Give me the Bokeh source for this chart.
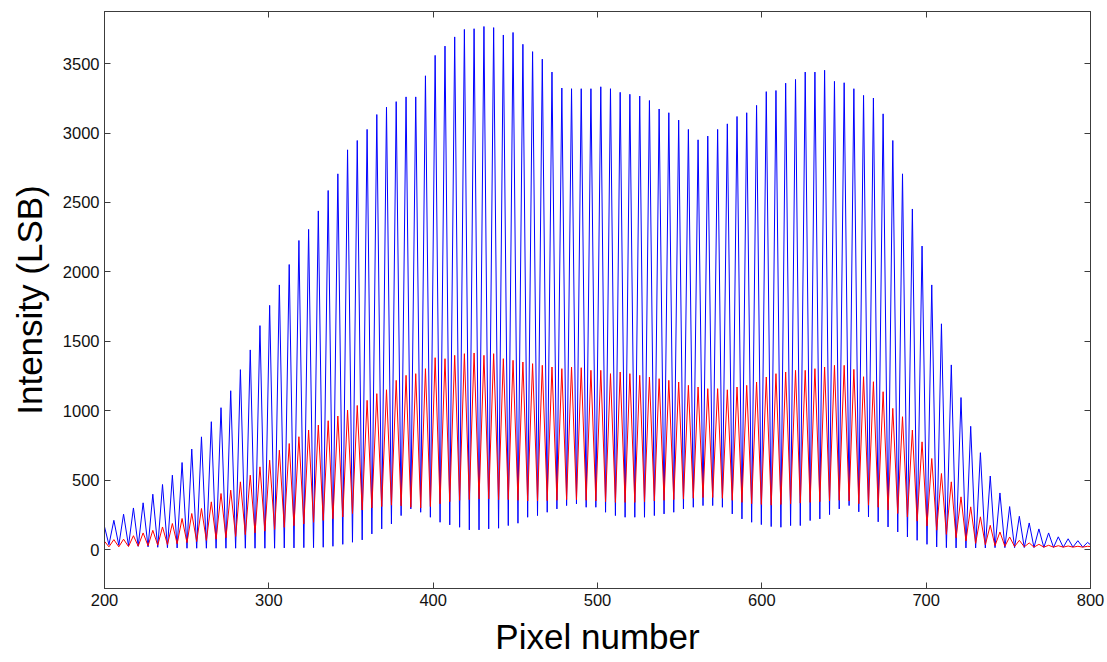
from bokeh.plotting import figure
from bokeh.models import LinearAxis, FixedTicker, Range1d
from bokeh.embed import file_html
from bokeh.resources import INLINE

# ---------------- data ----------------
x_ticks = [200, 300, 400, 500, 600, 700, 800]
y_ticks = [0, 500, 1000, 1500, 2000, 2500, 3000, 3500]

# pixel positions of the fringe maxima
peak_x = [205.7, 211.6, 217.6, 223.5, 229.4, 235.3, 241.3, 247.2, 253.1, 259.0,
          265.0, 270.9, 276.8, 282.7, 288.7, 294.6, 300.5, 306.4, 312.4, 318.3,
          324.2, 330.1, 336.1, 342.0, 347.9, 353.8, 359.8, 365.7, 371.6, 377.5,
          383.5, 389.4, 395.3, 401.2, 407.2, 413.1, 419.0, 424.9, 430.9, 436.8,
          442.7, 448.6, 454.6, 460.5, 466.4, 472.3, 478.3, 484.2, 490.1, 496.0,
          502.0, 507.9, 513.8, 519.7, 525.7, 531.6, 537.5, 543.4, 549.4, 555.3,
          561.2, 567.1, 573.1, 579.0, 584.9, 590.8, 596.8, 602.7, 608.6, 614.5,
          620.5, 626.4, 632.3, 638.2, 644.2, 650.1, 656.0, 661.9, 667.9, 673.8,
          679.7, 685.6, 691.6, 697.5, 703.4, 709.3, 715.3, 721.2, 727.1, 733.0,
          739.0, 744.9, 750.8, 756.7, 762.7, 768.6, 774.5, 780.4, 786.4, 792.3,
          798.2]
# pixel positions of the fringe minima (each one just before the matching maximum)
trough_x = [202.7, 208.7, 214.6, 220.5, 226.5, 232.4, 238.3, 244.2, 250.2, 256.1,
            262.0, 267.9, 273.9, 279.8, 285.7, 291.6, 297.6, 303.5, 309.4, 315.3,
            321.3, 327.2, 333.1, 339.0, 345.0, 350.9, 356.8, 362.7, 368.7, 374.6,
            380.5, 386.4, 392.4, 398.3, 404.2, 410.1, 416.1, 422.0, 427.9, 433.8,
            439.8, 445.7, 451.6, 457.5, 463.5, 469.4, 475.3, 481.2, 487.2, 493.1,
            499.0, 504.9, 510.9, 516.8, 522.7, 528.6, 534.6, 540.5, 546.4, 552.3,
            558.3, 564.2, 570.1, 576.0, 582.0, 587.9, 593.8, 599.7, 605.7, 611.6,
            617.5, 623.4, 629.4, 635.3, 641.2, 647.1, 653.1, 659.0, 664.9, 670.8,
            676.8, 682.7, 688.6, 694.5, 700.5, 706.4, 712.3, 718.2, 724.2, 730.1,
            736.0, 741.9, 747.9, 753.8, 759.7, 765.6, 771.6, 777.5, 783.4, 789.3,
            795.3]
edge_x = [200, 800]

blue_peak = [211, 255, 300, 337, 399, 469, 536, 627, 724, 812,
             921, 1022, 1144, 1296, 1438, 1613, 1759, 1906, 2053, 2226,
             2306, 2439, 2586, 2706, 2879, 2946, 3026, 3133, 3186, 3226,
             3260, 3260, 3412, 3559, 3626, 3692, 3746, 3751, 3767, 3759,
             3706, 3724, 3639, 3586, 3532, 3439, 3324, 3319, 3319, 3319,
             3333, 3319, 3293, 3279, 3266, 3234, 3173, 3146, 3093, 3026,
             2951, 2978, 3026, 3066, 3119, 3146, 3199, 3298, 3306, 3359,
             3386, 3439, 3439, 3452, 3372, 3362, 3319, 3271, 3252, 3138,
             2946, 2706, 2453, 2186, 1906, 1626, 1330, 1095, 888, 698,
             530, 408, 310, 240, 192, 149, 120, 92, 78, 64,
             52]
blue_trough = [35, 31, 28, 24, 20, 17, 14, 12, 10, 10,
               10, 10, 10, 10, 10, 10, 10, 10, 12, 12,
               14, 14, 17, 24, 38, 53, 70, 113, 149, 185,
               245, 293, 269, 233, 197, 178, 161, 142, 142, 149,
               154, 173, 190, 233, 245, 269, 293, 317, 329, 305,
               305, 269, 245, 233, 233, 233, 245, 257, 269, 293,
               305, 317, 317, 305, 257, 221, 197, 180, 166, 161,
               173, 173, 209, 221, 252, 293, 317, 272, 235, 200,
               163, 127, 91, 67, 38, 19, 14, 12, 12, 12,
               12, 14, 14, 14, 15, 15, 16, 16, 17, 18,
               18]
blue_edge = [165, 35]

red_peak = [72, 75, 100, 120, 139, 163, 188, 224, 260, 296,
            344, 404, 428, 488, 536, 596, 644, 716, 764, 813,
            861, 897, 928, 962, 1005, 1038, 1075, 1123, 1151, 1219,
            1255, 1267, 1303, 1382, 1375, 1399, 1411, 1416, 1399, 1411,
            1375, 1363, 1351, 1339, 1327, 1315, 1303, 1315, 1310, 1291,
            1291, 1267, 1279, 1267, 1255, 1243, 1231, 1219, 1207, 1183,
            1171, 1159, 1159, 1151, 1171, 1183, 1207, 1243, 1267, 1279,
            1291, 1291, 1303, 1315, 1327, 1327, 1298, 1245, 1209, 1137,
            1017, 957, 861, 776, 656, 548, 488, 380, 308, 236,
            175, 127, 91, 67, 48, 38, 31, 28, 26, 24,
            24]
red_trough = [20, 20, 22, 25, 28, 32, 36, 42, 50, 58,
              66, 75, 85, 95, 108, 120, 133, 146, 160, 172,
              185, 197, 210, 222, 235, 260, 285, 300, 310, 320,
              315, 305, 300, 310, 330, 345, 355, 360, 365, 365,
              360, 360, 355, 350, 350, 352, 355, 360, 360, 355,
              350, 345, 340, 340, 340, 345, 350, 355, 360, 365,
              370, 375, 375, 370, 355, 340, 330, 325, 320, 325,
              330, 335, 340, 345, 350, 355, 350, 330, 320, 305,
              285, 260, 235, 205, 170, 140, 110, 85, 62, 45,
              35, 28, 24, 22, 20, 18, 18, 18, 18, 18,
              18]
red_edge = [60, 22]


def trace(edge, troughs, peaks):
    xs, ys = [edge_x[0]], [edge[0]]
    for tx, tv, px_, pv in zip(trough_x, troughs, peak_x, peaks):
        xs += [tx, px_]
        ys += [tv, pv]
    xs.append(edge_x[1])
    ys.append(edge[1])
    return xs, ys


bx, by = trace(blue_edge, blue_trough, blue_peak)
rx, ry = trace(red_edge, red_trough, red_peak)

# ---------------- figure ----------------
FONT = "Liberation Sans"
AX = "#3c3c3c"

p = figure(width=1107, height=662, output_backend="svg", toolbar_location=None,
           x_range=Range1d(200, 800), y_range=Range1d(-280, 3875),
           min_border_left=104, min_border_right=17,
           min_border_top=11, min_border_bottom=74,
           background_fill_color="white", border_fill_color="white")

p.line(bx, by, line_color="#0000ff", line_width=1)
p.line(rx, ry, line_color="#ff0000", line_width=1)

p.xgrid.visible = False
p.ygrid.visible = False
p.outline_line_color = AX
p.outline_line_width = 1

for ax in (p.xaxis[0], p.yaxis[0]):
    ax.axis_line_color = AX
    ax.major_tick_line_color = AX
    ax.major_tick_in = 6
    ax.major_tick_out = 0
    ax.minor_tick_line_color = None
    ax.major_label_text_font = FONT
    ax.major_label_text_font_size = "16.5px"
    ax.major_label_text_color = "#111111"
    ax.axis_label_text_font = FONT
    ax.axis_label_text_font_size = "35px"
    ax.axis_label_text_font_style = "normal"
    ax.axis_label_text_color = "#000000"

p.xaxis.ticker = FixedTicker(ticks=x_ticks)
p.yaxis.ticker = FixedTicker(ticks=y_ticks)
p.xaxis.axis_label = "Pixel number"
p.yaxis.axis_label = "Intensity (LSB)"
p.xaxis.major_label_standoff = 5
p.yaxis.major_label_standoff = 5
p.xaxis.axis_label_standoff = 8
p.yaxis.axis_label_standoff = 11

top = LinearAxis(ticker=FixedTicker(ticks=x_ticks), major_tick_in=6, major_tick_out=0,
                 major_label_text_color=None, major_label_standoff=0,
                 axis_line_color=AX, major_tick_line_color=AX, minor_tick_line_color=None)
right = LinearAxis(ticker=FixedTicker(ticks=y_ticks), major_tick_in=6, major_tick_out=0,
                   major_label_text_color=None, major_label_standoff=0,
                   axis_line_color=AX, major_tick_line_color=AX, minor_tick_line_color=None)
p.add_layout(top, "above")
p.add_layout(right, "right")

open("out.html", "w").write(file_html(p, INLINE))
